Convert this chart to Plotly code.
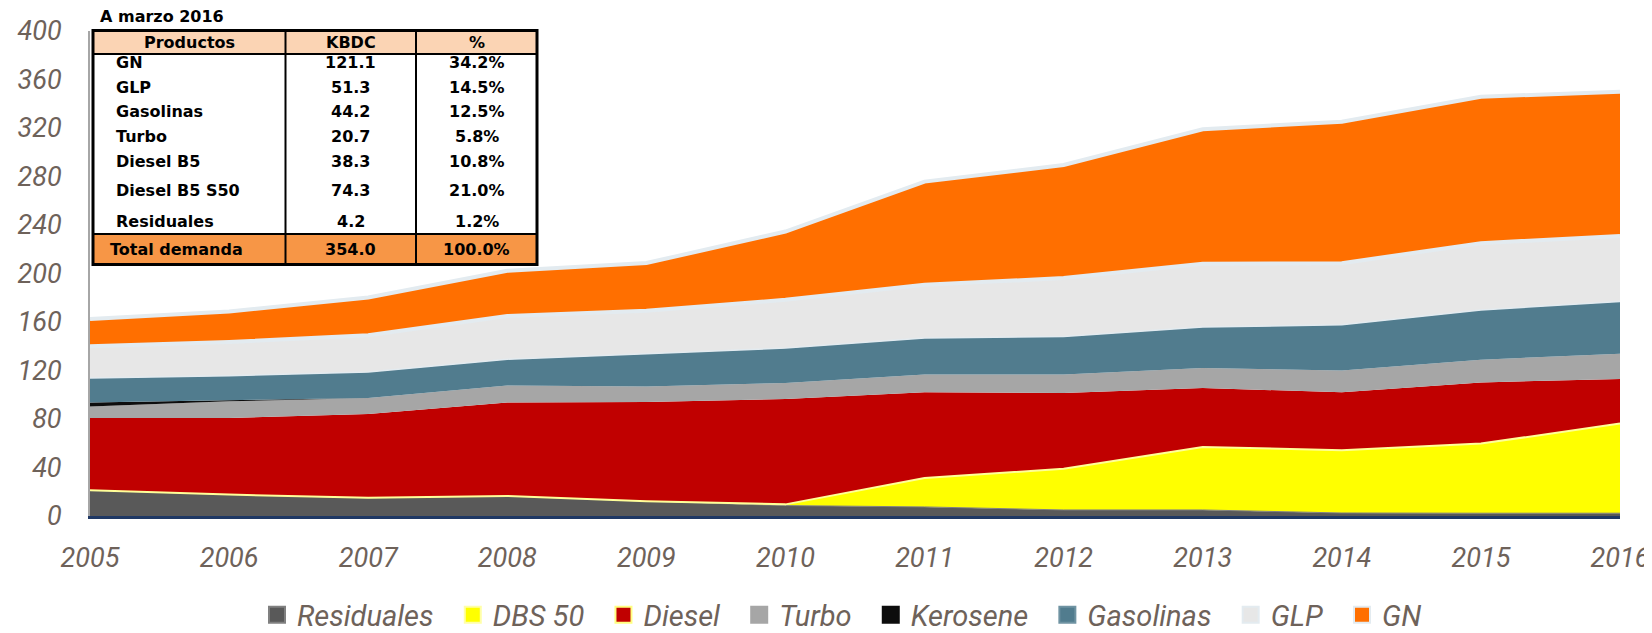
'''
    Stacked area chart of fuel demand by product (KBDC), 2005-2016,
    with the "A marzo 2016" summary table drawn over the top left corner.
'''
import plotly.graph_objects as go

years = [2005, 2006, 2007, 2008, 2009, 2010, 2011, 2012, 2013, 2014, 2015, 2016]

residuales = [21.3, 17.7, 15.0, 16.5, 12.2, 8.6, 7.5, 5.0, 5.0, 2.5, 2.3, 2.3]
dbs50 = [0, 0, 0, 0, 0, 1.0, 23.9, 33.9, 52.0, 51.7, 57.4, 73.9]
diesel = [59.6, 63.2, 69.2, 77.2, 81.8, 86.9, 70.6, 62.6, 48.6, 47.8, 50.5, 36.8]
turbo = [9.5, 13.7, 13.1, 13.9, 12.9, 13.2, 14.6, 15.1, 16.4, 18.1, 18.7, 20.9]
kerosene = [3.3, 0.8, 0, 0, 0, 0, 0, 0, 0, 0, 0, 0]
gasolinas = [20.1, 20.3, 21.5, 21.7, 27.0, 28.8, 30.2, 31.5, 33.8, 37.6, 41.1, 43.1]
glp = [26.1, 27.8, 30.2, 35.6, 35.4, 39.8, 43.9, 48.1, 52.2, 50.8, 55.0, 54.0]
gn = [22.5, 25.2, 31.2, 37.3, 39.3, 56.3, 85.1, 93.3, 111.0, 116.7, 120.8, 118.9]

y_ticks = [0, 40, 80, 120, 160, 200, 240, 280, 320, 360, 400]

# summary table
table_title = "A marzo 2016"
table_header = ["Productos", "KBDC", "%"]
table_products = ["GN", "GLP", "Gasolinas", "Turbo", "Diesel B5", "Diesel B5 S50", "Residuales"]
table_kbdc = ["121.1", "51.3", "44.2", "20.7", "38.3", "74.3", "4.2"]
table_pct = ["34.2%", "14.5%", "12.5%", "5.8%", "10.8%", "21.0%", "1.2%"]
table_total = ["Total demanda", "354.0", "100.0%"]

TEXT_COLOR = "#6E625A"
TICK_FONT = dict(family="Roboto", size=27, color=TEXT_COLOR, style="italic")
BORDER = "#E3EBF0"

# name, values, fill colour, edge line, legend swatch border
series = [
    ("Residuales", residuales, "#595959", dict(color="#7F7F7F", width=1), "#808080"),
    ("DBS 50", dbs50, "#FFFF00", dict(color="#FFFF99", width=2), "#FFFFA8"),
    ("Diesel", diesel, "#C00000", dict(color="#C00000", width=0), "#FFFF80"),
    ("Turbo", turbo, "#A6A6A6", dict(color="#A6A6A6", width=0), "#A6A6A6"),
    ("Kerosene", kerosene, "#0D0D0D", dict(color="#0D0D0D", width=0), "#0D0D0D"),
    ("Gasolinas", gasolinas, "#517C8E", dict(color=BORDER, width=1.5), "#6F93A2"),
    ("GLP", glp, "#E7E7E7", dict(color=BORDER, width=4), BORDER),
    ("GN", gn, "#FF6F00", dict(color=BORDER, width=4), BORDER),
]

fig = go.Figure()
for name, values, fill, line, edge in series:
    fig.add_trace(go.Scatter(
        x=years, y=values, name=name, legendgroup=name,
        mode="lines", stackgroup="one",
        fillcolor=fill, line=line, showlegend=False,
    ))
# square swatches for the legend (non-breaking spaces widen the gaps)
for i, (name, values, fill, line, edge) in enumerate(series):
    pad = "" if i == len(series) - 1 else "\u00a0\u00a0"
    fig.add_trace(go.Scatter(
        x=[None], y=[None], name=name + pad, legendgroup=name,
        mode="markers",
        marker=dict(symbol="square", size=16, color=fill, line=dict(color=edge, width=2)),
    ))

# the page puts the figure 8px in from the top-left corner
OFF = 8
W, H = 1652 - OFF, 633 - OFF
# plot area in page pixels (used to place the table overlay)
L, R, T, B = 90, 1620, 31, 516


def px(x):
    return (x - L) / (R - L)


def py(y):
    return (B - y) / (B - T)


shapes = []
annotations = []

tx0, tx1 = 93, 537
col_x = [93, 285.5, 416, 537]
row_top, header_bottom, total_top, row_bottom = 30.5, 54, 234, 264.5
row_centers = [63, 87.5, 111.5, 136, 161, 190.5, 221]

# fills
shapes.append(dict(type="rect", xref="paper", yref="paper",
                   x0=px(tx0), x1=px(tx1), y0=py(row_bottom), y1=py(row_top),
                   fillcolor="white", line=dict(width=0)))
shapes.append(dict(type="rect", xref="paper", yref="paper",
                   x0=px(tx0), x1=px(tx1), y0=py(header_bottom), y1=py(row_top),
                   fillcolor="#FBD4B4", line=dict(width=0)))
shapes.append(dict(type="rect", xref="paper", yref="paper",
                   x0=px(tx0), x1=px(tx1), y0=py(row_bottom), y1=py(total_top),
                   fillcolor="#F79646", line=dict(width=0)))
# grid lines
for yy in [header_bottom, total_top]:
    shapes.append(dict(type="line", xref="paper", yref="paper",
                       x0=px(tx0), x1=px(tx1), y0=py(yy), y1=py(yy),
                       line=dict(color="black", width=2)))
for xx in col_x[1:-1]:
    shapes.append(dict(type="line", xref="paper", yref="paper",
                       x0=px(xx), x1=px(xx), y0=py(row_bottom), y1=py(row_top),
                       line=dict(color="black", width=2)))
shapes.append(dict(type="rect", xref="paper", yref="paper",
                   x0=px(tx0), x1=px(tx1), y0=py(row_bottom), y1=py(row_top),
                   line=dict(color="black", width=3)))

TABLE_FONT = dict(family="DejaVu Sans", size=16, color="black")


def cell(text, x, y, align="center"):
    annotations.append(dict(
        text=f"<b>{text}</b>", xref="paper", yref="paper",
        x=px(x), y=py(y), xanchor=align, yanchor="middle",
        showarrow=False, font=TABLE_FONT,
    ))


annotations.append(dict(
    text=f"<b>{table_title}</b>", xref="paper", yref="paper",
    x=px(98), y=py(16), xanchor="left", yanchor="middle",
    showarrow=False, font=TABLE_FONT,
))
header_y = (row_top + header_bottom) / 2
cell(table_header[0], (col_x[0] + col_x[1]) / 2, header_y)
cell(table_header[1], (col_x[1] + col_x[2]) / 2, header_y)
cell(table_header[2], (col_x[2] + col_x[3]) / 2, header_y)
for prod, kb, pc, yy in zip(table_products, table_kbdc, table_pct, row_centers):
    cell(prod, 114, yy, align="left")
    cell(kb, (col_x[1] + col_x[2]) / 2, yy)
    cell(pc, (col_x[2] + col_x[3]) / 2, yy)
total_y = (total_top + row_bottom) / 2
cell(table_total[0], 108, total_y, align="left")
cell(table_total[1], (col_x[1] + col_x[2]) / 2, total_y)
cell(table_total[2], (col_x[2] + col_x[3]) / 2, total_y)

fig.update_layout(
    width=W, height=H,
    margin=dict(l=L - OFF, r=1652 - R, t=T - OFF, b=633 - B, autoexpand=False),
    paper_bgcolor="white", plot_bgcolor="white",
    showlegend=True,
    legend=dict(
        orientation="h", x=px(842), xanchor="center", y=py(615), yanchor="middle",
        font=dict(family="Roboto", size=29, color=TEXT_COLOR, style="italic"),
        itemwidth=30, traceorder="normal", itemsizing="trace",
    ),
    shapes=shapes,
    annotations=annotations,
)

fig.update_xaxes(
    range=[2005, 2016], tickvals=years, showgrid=False, zeroline=False,
    showline=True, linecolor="#1F3864", linewidth=2.5,
    tickfont=TICK_FONT, ticks="", ticklabelstandoff=16,
)
fig.update_yaxes(
    range=[0, 400], tickvals=y_ticks, showgrid=False, zeroline=False,
    showline=True, linecolor="#A6A6A6", linewidth=2,
    tickfont=TICK_FONT, ticks="", ticklabelstandoff=21,
)

fig.write_html("out.html")
